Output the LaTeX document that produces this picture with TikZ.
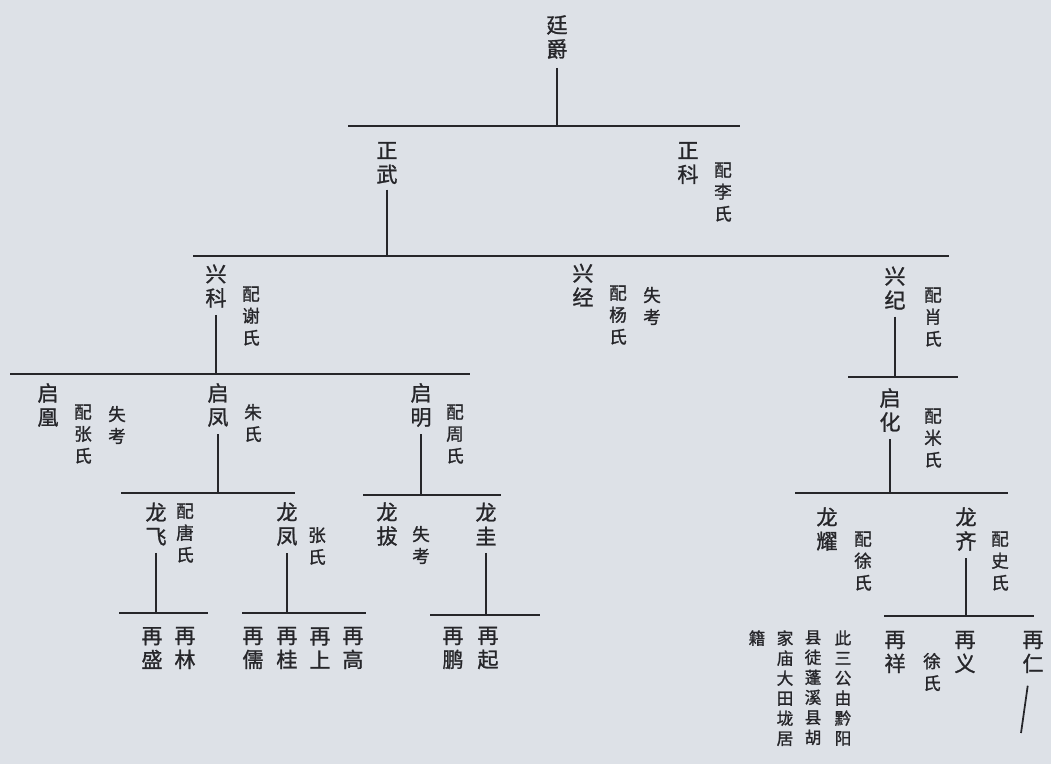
\documentclass[tikz,border=0pt]{standalone}
\usepackage{fontspec}
\newfontfamily\cjk[FakeBold = 1.2]{Noto Sans CJK SC}
\definecolor{paper}{RGB}{221,225,231}
\definecolor{ink}{RGB}{38,38,42}

\begin{document}
\begin{tikzpicture}[x = 0.02cm, y = -0.02cm,
	person/.style = {font = \cjk\fontsize{12}{13.7}\selectfont, align = center, inner sep = 0pt, text = ink},
	spouse/.style = {font = \cjk\fontsize{10}{12.5}\selectfont, align = center, inner sep = 0pt, text = ink},
	remark/.style = {font = \cjk\fontsize{9.5}{11.4}\selectfont, align = center, inner sep = 0pt, anchor = north, text = ink},
	bar/.style = {ink, line width = 1.5pt},
	stem/.style = {ink, line width = 1pt}]

	% Paper

	\fill [paper] (0, 0) rectangle (1051, 764);

	% Generation 1

	\node [person] (tingjue) at (557, 37) {廷\\爵};

	\coordinate (b1w) at (348, 126);
	\coordinate (b1e) at (740, 126);
	\draw [bar] (b1w) -- (b1e);
	\draw [stem] ([yshift = -5pt] tingjue.south) -- (tingjue |- b1w);

	% Generation 2

	\node [person] (zhengwu) at (387, 163) {正\\武};
	\node [person] (zhengke) at (688, 163) {正\\科};
	\node [spouse] (zhengkew) at (723, 192) {配\\李\\氏};

	\coordinate (b2w) at (193, 256);
	\coordinate (b2e) at (949, 256);
	\draw [bar] (b2w) -- (b2e);
	\draw [stem] ([yshift = -3pt] zhengwu.south) -- (zhengwu |- b2w);

	% Generation 3

	\node [person] (xingke) at (216, 286) {兴\\科};
	\node [spouse] (xingkew) at (251, 316) {配\\谢\\氏};
	\node [person] (xingjing) at (583, 285) {兴\\经};
	\node [spouse] (xingjingw) at (618, 315) {配\\杨\\氏};
	\node [spouse] (xingjingr) at (652, 306) {失\\考};
	\node [person] (xingji) at (895, 288) {兴\\纪};
	\node [spouse] (xingjiw) at (933, 317) {配\\肖\\氏};

	\coordinate (b3w) at (10, 374);
	\coordinate (b3e) at (470, 374);
	\draw [bar] (b3w) -- (b3e);
	\draw [stem] ([yshift = -4pt] xingke.south) -- (xingke |- b3w);

	\coordinate (b3r) at (848, 377);
	\coordinate (b3s) at (958, 377);
	\draw [bar] (b3r) -- (b3s);
	\draw [stem] ([yshift = -4pt] xingji.south) -- (xingji |- b3r);

	% Generation 4

	\node [person] (qihuang) at (48, 405) {启\\凰};
	\node [spouse] (qihuangw) at (83, 434) {配\\张\\氏};
	\node [spouse] (qihuangr) at (117, 425) {失\\考};
	\node [person] (qifeng) at (218, 405) {启\\凤};
	\node [spouse] (qifengw) at (253, 423) {朱\\氏};
	\node [person] (qiming) at (421, 405) {启\\明};
	\node [spouse] (qimingw) at (455, 434) {配\\周\\氏};
	\node [person] (qihua) at (890, 410) {启\\化};
	\node [spouse] (qihuaw) at (933, 438) {配\\米\\氏};

	\coordinate (b4w) at (121, 493);
	\coordinate (b4e) at (295, 493);
	\draw [bar] (b4w) -- (b4e);
	\draw [stem] ([yshift = -4pt] qifeng.south) -- (qifeng |- b4w);

	\coordinate (b4m) at (363, 495);
	\coordinate (b4n) at (501, 495);
	\draw [bar] (b4m) -- (b4n);
	\draw [stem] ([yshift = -4pt] qiming.south) -- (qiming |- b4m);

	\coordinate (b4r) at (795, 493);
	\coordinate (b4s) at (1008, 493);
	\draw [bar] (b4r) -- (b4s);
	\draw [stem] ([yshift = -4pt] qihua.south) -- (qihua |- b4r);

	% Generation 5

	\node [person] (longfei) at (156, 524) {龙\\飞};
	\node [spouse] (longfeiw) at (185, 533) {配\\唐\\氏};
	\node [person] (longfeng) at (287, 524) {龙\\凤};
	\node [spouse] (longfengw) at (317, 546) {张\\氏};
	\node [person] (longba) at (387, 524) {龙\\拔};
	\node [spouse] (longbar) at (421, 545) {失\\考};
	\node [person] (longgui) at (486, 524) {龙\\圭};
	\node [person] (longyao) at (827, 529) {龙\\耀};
	\node [spouse] (longyaow) at (863, 561) {配\\徐\\氏};
	\node [person] (longqi) at (966, 529) {龙\\齐};
	\node [spouse] (longqiw) at (1000, 561) {配\\史\\氏};

	\coordinate (b5a) at (119, 613);
	\coordinate (b5b) at (208, 613);
	\draw [bar] (b5a) -- (b5b);
	\draw [stem] ([yshift = -4pt] longfei.south) -- (longfei |- b5a);

	\coordinate (b5c) at (242, 613);
	\coordinate (b5d) at (366, 613);
	\draw [bar] (b5c) -- (b5d);
	\draw [stem] ([yshift = -4pt] longfeng.south) -- (longfeng |- b5c);

	\coordinate (b5e) at (430, 615);
	\coordinate (b5f) at (540, 615);
	\draw [bar] (b5e) -- (b5f);
	\draw [stem] ([yshift = -4pt] longgui.south) -- (longgui |- b5e);

	\coordinate (b5g) at (884, 616);
	\coordinate (b5h) at (1034, 616);
	\draw [bar] (b5g) -- (b5h);
	\draw [stem] ([yshift = -4pt] longqi.south) -- (longqi |- b5g);

	% Generation 6

	\foreach \x/\id/\given in {152/zaisheng/盛, 185/zailin/林, 253/zairu/儒, 287/zaigui/桂,
			320/zaishang/上, 353/zaigao/高, 453/zaipeng/鹏, 488/zaiqi/起}
		\node [person] (\id) at (\x, 648) {再\\\given};

	\foreach \x/\id/\given in {895/zaixiang/祥, 965/zaiyi/义, 1033/zairen/仁}
		\node [person] (\id) at (\x, 652) {再\\\given};

	\node [spouse] (zaixiangw) at (932, 672) {徐\\氏};

	\coordinate (tail) at (1021, 733);
	\draw [stem] ([xshift = -3pt, yshift = -7pt] zairen.south) -- (tail);

	% Note

	\node [remark] (note1) at (843, 630) {此\\三\\公\\由\\黔\\阳};
	\node [remark] (note2) at (813, 630) {县\\徒\\蓬\\溪\\县\\胡};
	\node [remark] (note3) at (785, 630) {家\\庙\\大\\田\\垅\\居};
	\node [remark] (note4) at (757, 630) {籍};

\end{tikzpicture}
\end{document}
